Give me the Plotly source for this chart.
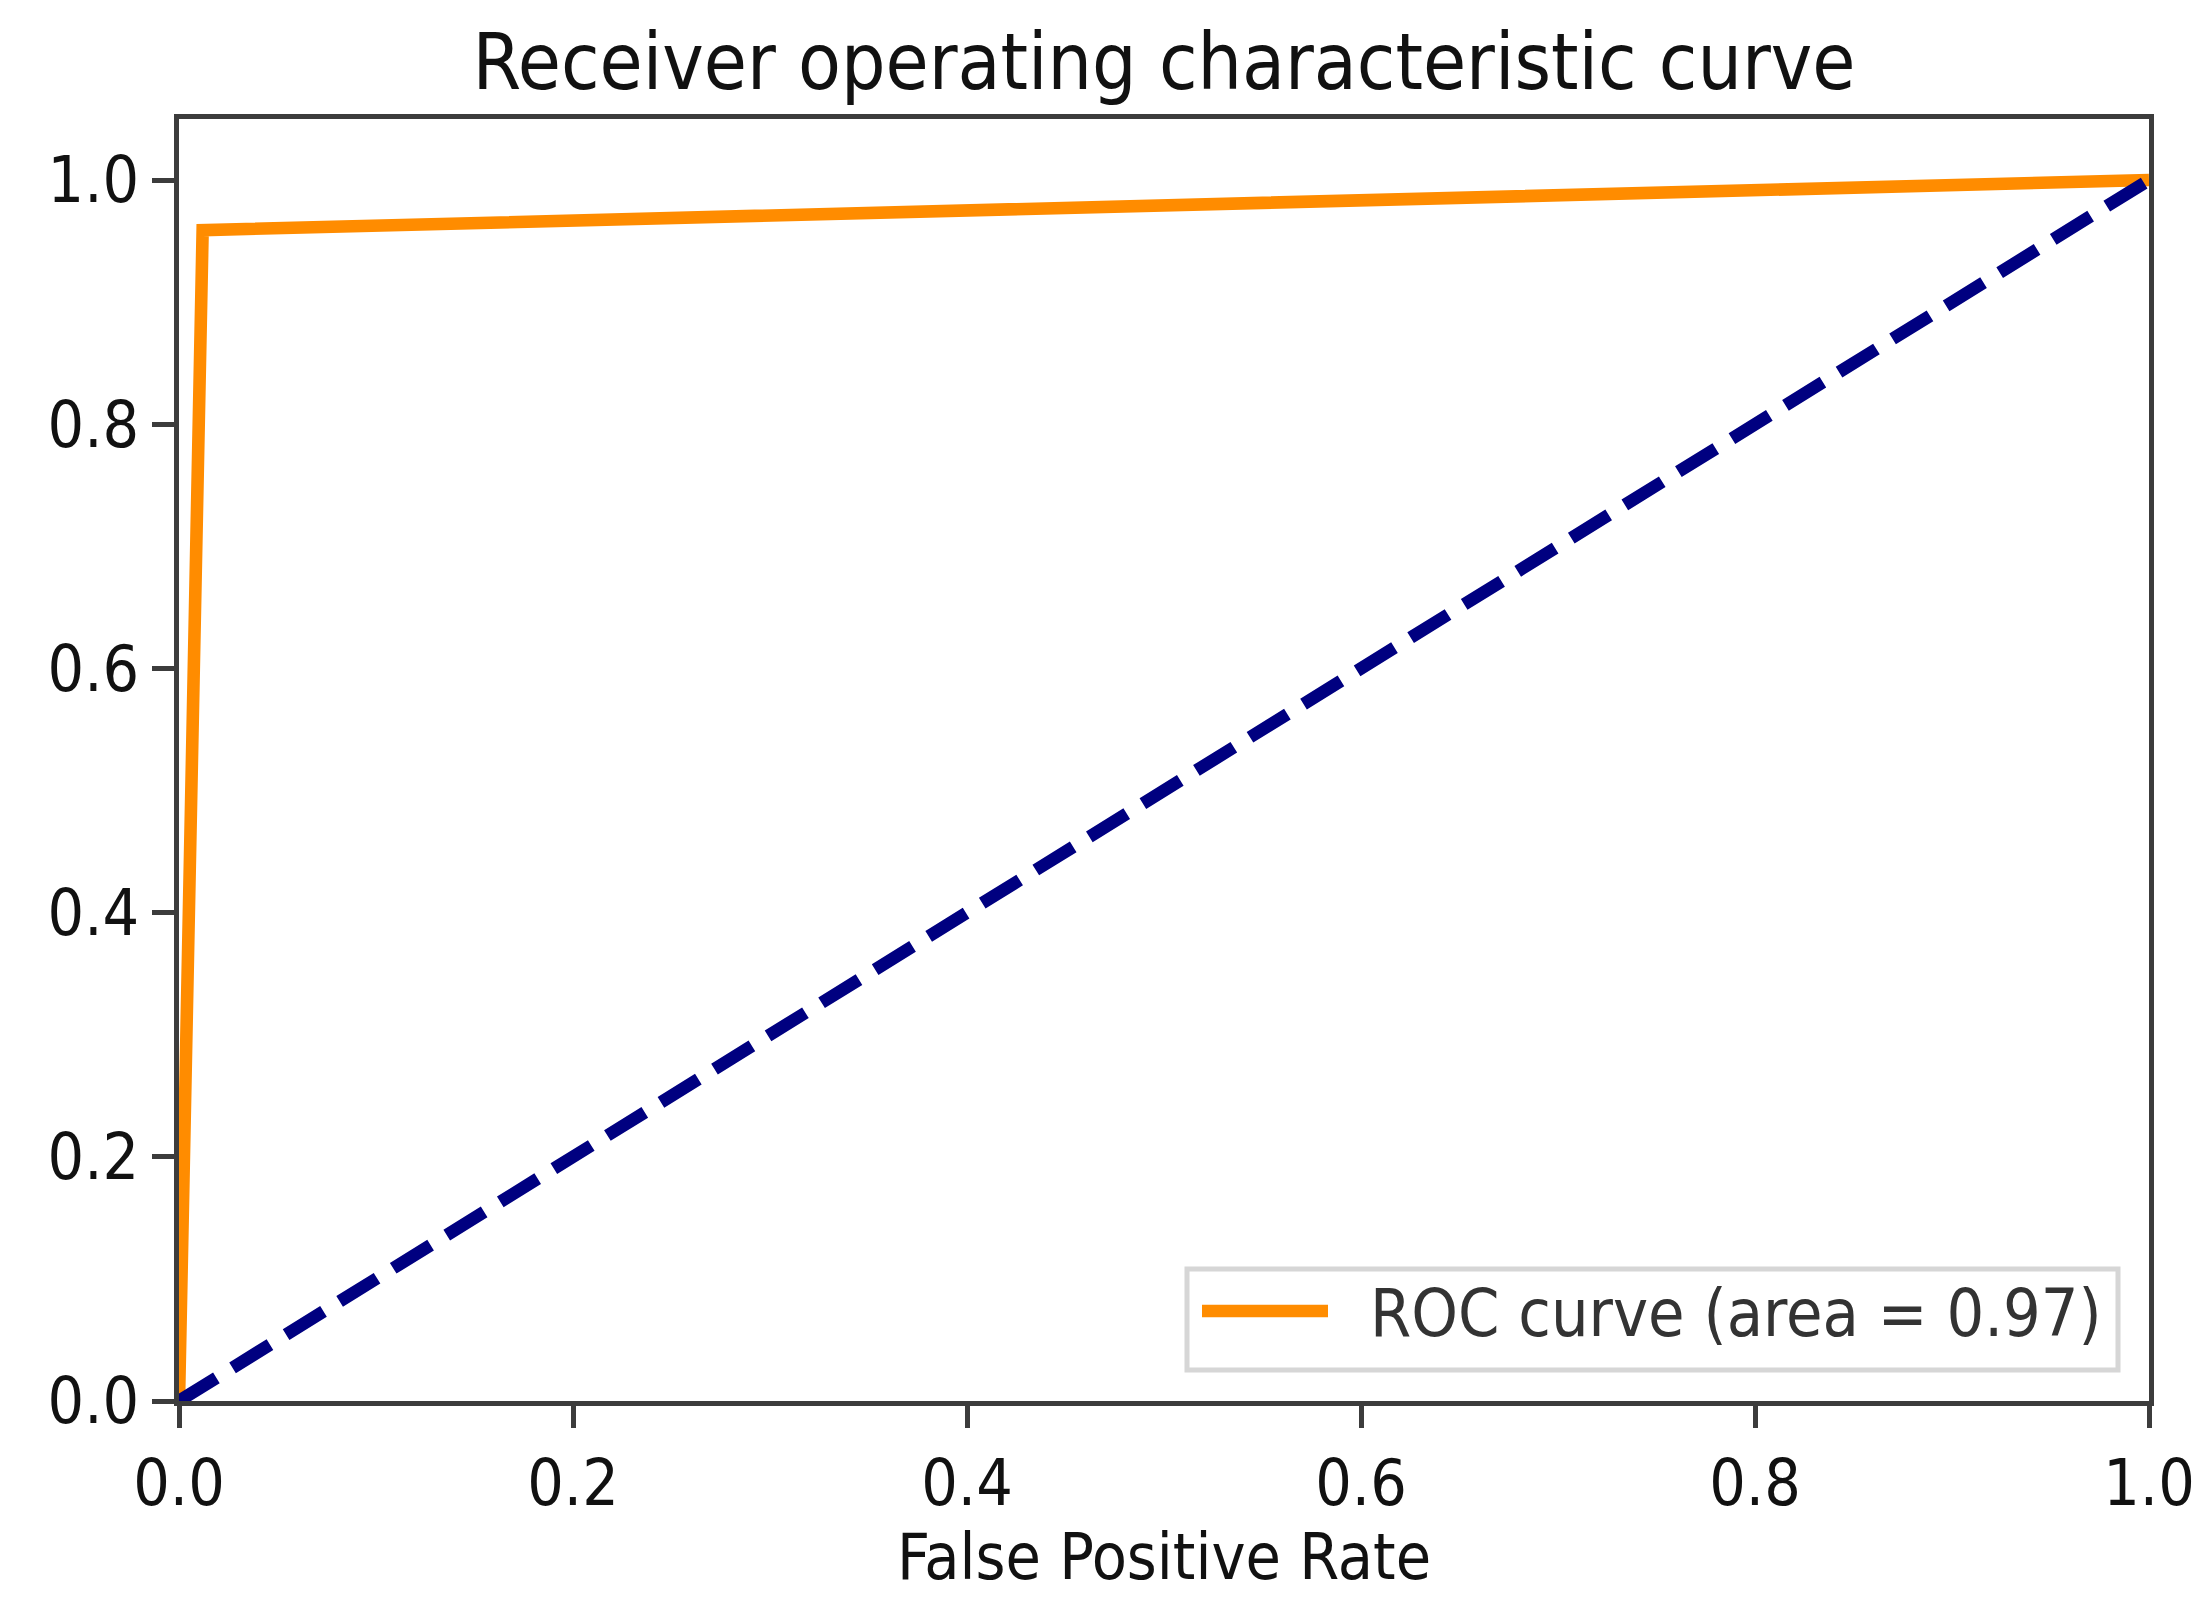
import plotly.graph_objects as go

# ---- data ----
fpr = [0.0, 0.012, 1.0]
tpr = [0.0, 0.959, 1.0]
diag_x = [0.0, 1.0]
diag_y = [0.0, 1.0]
roc_auc = 0.97
x_ticks = [0.0, 0.2, 0.4, 0.6, 0.8, 1.0]
y_ticks = [0.0, 0.2, 0.4, 0.6, 0.8, 1.0]
title_text = "Receiver operating characteristic curve"
xlabel_text = "False Positive Rate"
legend_label = "ROC curve (area = %0.2f)" % roc_auc

# ---- layout geometry (pixels) ----
W, H = 2197, 1606
L, R, T, B = 179, 2149, 119, 1401
PW, PH = R - L, B - T
FONT = "DejaVu Sans Condensed, DejaVu Sans"
TICK_FS = 64
TITLE_FS = 78
PT = 6.3

def px(xp):
    return (xp - L) / PW

def py(yp):
    return (B - yp) / PH

fig = go.Figure()
fig.add_trace(go.Scatter(x=fpr, y=tpr, mode="lines",
                         line=dict(color="#FF8C00", width=2 * PT),
                         name=legend_label, showlegend=False))
fig.add_trace(go.Scatter(x=diag_x, y=diag_y, mode="lines",
                         line=dict(color="#000080", width=2 * PT, dash="44px,19px"),
                         showlegend=False))

axis_common = dict(showgrid=False, zeroline=False, showline=True, mirror=True,
                   linecolor="#3c3c3c", linewidth=0.8 * PT,
                   ticks="outside", ticklen=3.5 * PT, tickwidth=0.8 * PT,
                   tickcolor="#3c3c3c", ticklabeloverflow="allow", automargin=False,
                   tickfont=dict(family=FONT, size=TICK_FS, color="#111"))

fig.update_layout(
    width=W, height=H,
    margin=dict(l=L, r=W - R, t=T, b=H - B, autoexpand=False),
    paper_bgcolor="white", plot_bgcolor="white",
    title=dict(text=title_text, x=(L + R) / 2 / W, xanchor="center",
               y=1 - 62 / H, yanchor="middle",
               font=dict(family=FONT, size=TITLE_FS, color="#111")),
    xaxis=dict(range=[0, 1], tickvals=x_ticks,
               ticktext=["%.1f" % v for v in x_ticks],
               title=dict(text=xlabel_text, font=dict(family=FONT, size=TICK_FS, color="#111"),
                          standoff=8),
               **axis_common),
    yaxis=dict(range=[0, 1.05], tickvals=y_ticks,
               ticktext=["%.1f" % v for v in y_ticks],
               **axis_common),
    showlegend=False,
)

# custom legend (matplotlib-style, lower right)
lx0, lx1, ly0, ly1 = px(1187), px(2118), py(1370), py(1269)
fig.add_shape(type="rect", xref="paper", yref="paper",
              x0=lx0, x1=lx1, y0=ly0, y1=ly1,
              line=dict(color="#d6d6d6", width=5), fillcolor="rgba(255,255,255,0.85)",
              layer="above")
fig.add_shape(type="line", xref="paper", yref="paper",
              x0=px(1202), x1=px(1328), y0=py(1311), y1=py(1311),
              line=dict(color="#FF8C00", width=2 * PT), layer="above")
fig.add_annotation(xref="paper", yref="paper", x=px(1368), y=py(1313),
                   xanchor="left", yanchor="middle", showarrow=False,
                   text=legend_label,
                   font=dict(family=FONT, size=TICK_FS + 2, color="#333"))

fig.write_html("out.html")
